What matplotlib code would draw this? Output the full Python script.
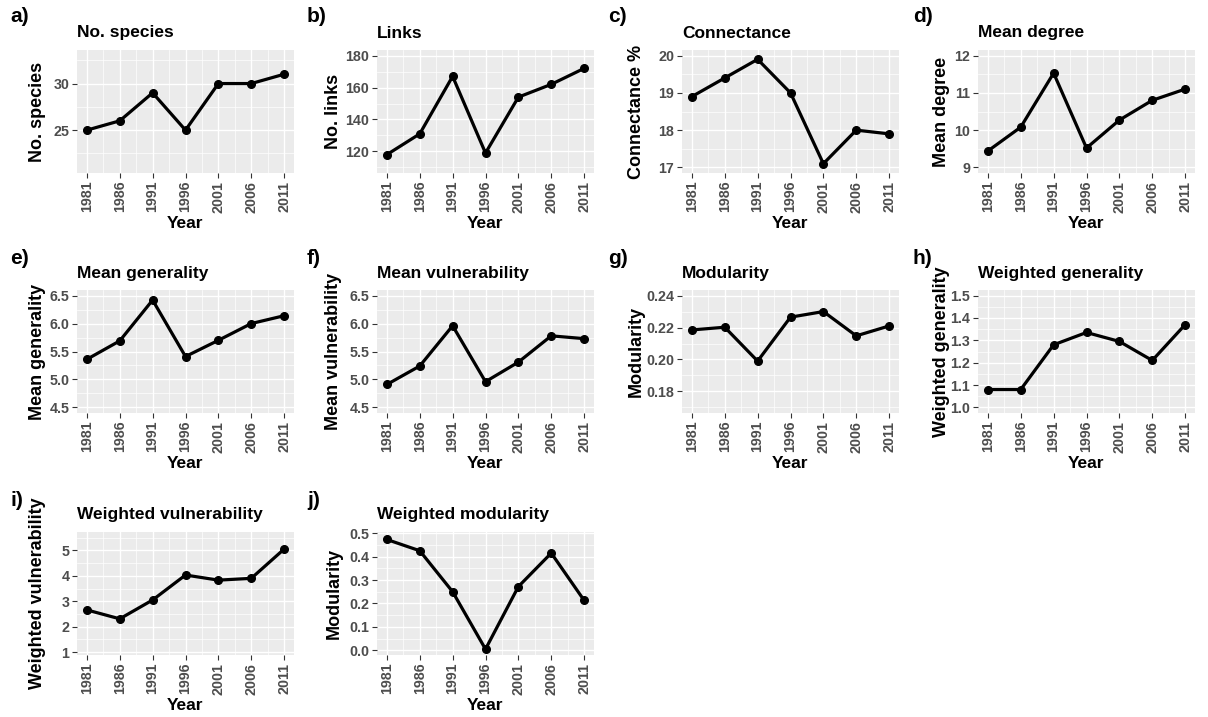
import numpy as np
import matplotlib
matplotlib.use("Agg")
import matplotlib.pyplot as plt
from matplotlib.ticker import FormatStrFormatter

plt.rcParams['font.family'] = ['Liberation Sans', 'DejaVu Sans']

years = [1981, 1986, 1991, 1996, 2001, 2006, 2011]

no_species = [25, 26, 29, 25, 30, 30, 31]
links = [118, 131, 167, 119, 154, 162, 172]
connectance = [18.9, 19.4, 19.9, 19.0, 17.1, 18.0, 17.9]
mean_degree = [9.44, 10.08, 11.53, 9.52, 10.27, 10.80, 11.10]
mean_generality = [5.36, 5.69, 6.42, 5.41, 5.70, 6.00, 6.14]
mean_vulnerability = [4.91, 5.24, 5.96, 4.96, 5.31, 5.78, 5.73]
modularity = [0.2185, 0.2202, 0.1990, 0.2265, 0.2300, 0.2148, 0.2210]
w_generality = [1.08, 1.08, 1.28, 1.335, 1.295, 1.21, 1.37]
w_vulnerability = [2.66, 2.31, 3.05, 4.03, 3.83, 3.90, 5.05]
w_modularity = [0.473, 0.425, 0.250, 0.005, 0.272, 0.415, 0.213]

letters = ['a)', 'b)', 'c)', 'd)', 'e)', 'f)', 'g)', 'h)', 'i)', 'j)']
titles = ['No. species', 'Links', 'Connectance', 'Mean degree', 'Mean generality',
          'Mean vulnerability', 'Modularity', 'Weighted generality',
          'Weighted vulnerability', 'Weighted modularity']
ylabels = ['No. species', 'No. links', 'Connectance %', 'Mean degree', 'Mean generality',
           'Mean vulnerability', 'Modularity', 'Weighted generality',
           'Weighted vulnerability', 'Modularity']
series = [no_species, links, connectance, mean_degree, mean_generality,
          mean_vulnerability, modularity, w_generality, w_vulnerability, w_modularity]
yticks = [[25, 30], [120, 140, 160, 180], [17, 18, 19, 20], [9, 10, 11, 12],
          [4.5, 5.0, 5.5, 6.0, 6.5], [4.5, 5.0, 5.5, 6.0, 6.5],
          [0.18, 0.20, 0.22, 0.24], [1.0, 1.1, 1.2, 1.3, 1.4, 1.5],
          [1, 2, 3, 4, 5], [0.0, 0.1, 0.2, 0.3, 0.4, 0.5]]
yfmt = ['%d', '%d', '%d', '%d', '%.1f', '%.1f', '%.2f', '%.1f', '%d', '%.1f']
ylims = [(20.4, 33.6), (106.5, 183.5), (16.85, 20.15), (8.85, 12.15), (4.4, 6.6),
         (4.4, 6.6), (0.1665, 0.2435), (0.975, 1.525), (0.89, 5.72), (-0.02, 0.505)]

# layout in pixels
W, H = 1208, 717
col_x = [77, 377, 682, 978]
row_y = [50, 290, 532]
pw, ph = 217, 123
ylab_off = [40, 43, 46, 37]
letter_x = [10, 307, 608, 913]
letter_y = [17, 259, 500]

fig = plt.figure(figsize=(W / 100, H / 100), dpi=100)
fig.patch.set_facecolor('white')

grey = '#4D4D4D'
for k in range(10):
    r, c = divmod(k, 4)
    ax = fig.add_axes([col_x[c] / W, 1 - (row_y[r] + ph) / H, pw / W, ph / H])
    ax.set_facecolor('#EBEBEB')
    for s in ax.spines.values():
        s.set_visible(False)

    ax.plot(years, series[k], color='black', lw=2.3, marker='o', ms=5.5,
            solid_joinstyle='round', zorder=3)

    ax.set_xlim(1979.5, 2012.5)
    ax.set_xticks(years)
    ax.set_xticks([y + 2.5 for y in years[:-1]], minor=True)
    ax.set_xticklabels([str(y) for y in years], rotation=90)
    yt = yticks[k]
    ax.set_yticks(yt)
    step = yt[1] - yt[0]
    mn = [yt[0] - step / 2] + [v + step / 2 for v in yt]
    ax.set_yticks(mn, minor=True)
    ax.set_ylim(*ylims[k])
    ax.yaxis.set_major_formatter(FormatStrFormatter(yfmt[k]))

    ax.grid(which='major', color='white', lw=1.0)
    ax.grid(which='minor', color='white', lw=0.5)
    ax.set_axisbelow(True)
    ax.tick_params(which='major', length=3.5, width=0.8, color='#333333',
                   labelsize=10.3, labelcolor=grey, pad=2)
    ax.tick_params(which='minor', length=0)
    for lab in ax.get_xticklabels() + ax.get_yticklabels():
        lab.set_fontweight('bold')

    ax.set_ylabel(ylabels[k], fontsize=13, fontweight='bold')
    ax.yaxis.set_label_coords(-ylab_off[c] / pw, 0.5)
    ax.yaxis.label.set_va('center')
    ax.set_xlabel('Year', fontsize=12.5, fontweight='bold')
    ax.xaxis.set_label_coords(0.5, -50 / ph)
    ax.xaxis.label.set_va('center')

    ax.text(0, 1 + 17 / ph, titles[k], transform=ax.transAxes, ha='left', va='center',
            fontsize=12.5, fontweight='bold')
    fig.text(letter_x[c] / W, 1 - letter_y[r] / H, letters[k], ha='left', va='center',
             fontsize=15, fontweight='bold')

fig.savefig('out.png', dpi=100, facecolor='white')
